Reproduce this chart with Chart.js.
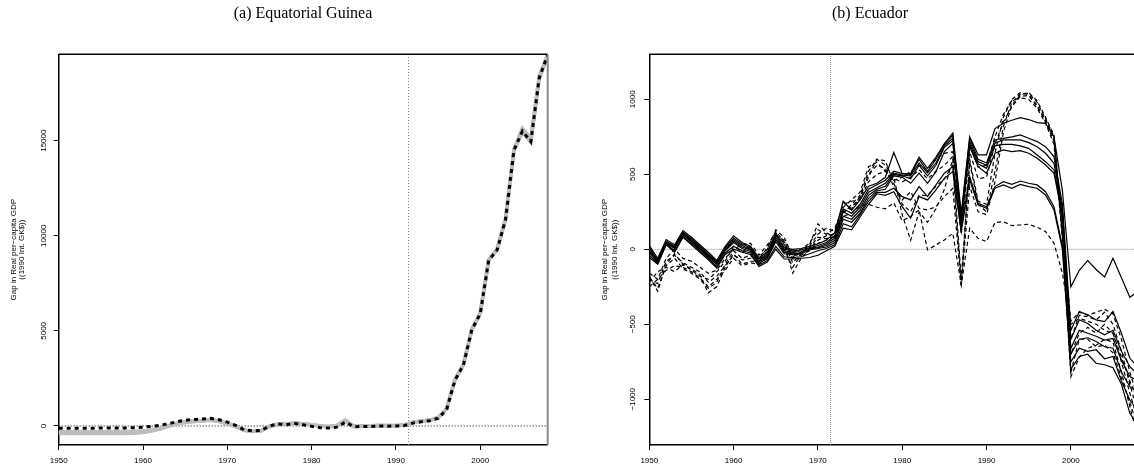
<!DOCTYPE html>
<html><head><meta charset="utf-8">
<script src="https://cdn.jsdelivr.net/npm/chart.js@4/dist/chart.umd.min.js"></script>
<style>
html,body{margin:0;padding:0;background:#fff;overflow:hidden;width:1134px;height:474px;}
#wrap{position:relative;width:1134px;height:474px;overflow:hidden;background:#fff;}
#c1{position:absolute;left:0;top:0;}
#c2{position:absolute;left:567px;top:0;}
</style></head><body>
<div id="wrap"><canvas id="c1" width="567" height="474"></canvas><canvas id="c2" width="600" height="474"></canvas></div>
<script>
// ---------------- DATA ----------------
const years = [1950,1951,1952,1953,1954,1955,1956,1957,1958,1959,
  1960,1961,1962,1963,1964,1965,1966,1967,1968,1969,
  1970,1971,1972,1973,1974,1975,1976,1977,1978,1979,
  1980,1981,1982,1983,1984,1985,1986,1987,1988,1989,
  1990,1991,1992,1993,1994,1995,1996,1997,1998,1999,
  2000,2001,2002,2003,2004,2005,2006,2007,2008];
const xTickLabels = [1950,1960,1970,1980,1990,2000];

// (a) Equatorial Guinea
const eqTitle = '(a) Equatorial Guinea';
const eqYTicks = [0,5000,10000,15000];
const eqTreatYear = 1991.5;
const eqMainGap = [-120,-120,-118,-115,-115,-112,-110,-106,-100,-90,
  -60,-20,30,120,220,300,340,370,400,330,
  200,30,-200,-260,-240,0,110,70,130,60,
  -20,-90,-110,-60,200,-40,-20,-30,0,-10,
  0,20,150,220,280,400,850,2400,3200,5050,
  5900,8700,9250,10850,14500,15500,14950,18300,19500];
const eqGray1 = [-300,-300,-300,-300,-300,-300,-300,-295,-290,-280,
  -250,-200,-110,20,140,220,270,300,340,280,
  150,-10,-210,-270,-240,-10,100,90,150,110,
  50,0,-40,10,310,-20,0,10,30,20,
  20,60,200,260,310,450,900,2450,3250,5100,
  5950,8750,9300,10900,14550,15650,15100,18400,19540];
const eqGray2 = [-350,-350,-350,-350,-350,-350,-348,-345,-340,-330,
  -300,-240,-140,0,120,200,250,280,320,260,
  130,-20,-220,-280,-250,-20,90,100,150,120,
  60,10,-30,20,300,-20,0,10,30,20,
  20,50,200,260,300,440,880,2430,3230,5080,
  5930,8720,9280,10870,14500,15550,15000,18330,19500];
const eqGray3 = [-400,-400,-400,-400,-400,-400,-398,-395,-390,-380,
  -340,-270,-160,-20,100,180,230,260,300,240,
  110,-30,-230,-290,-260,-30,80,90,140,110,
  50,0,-40,10,290,-30,-10,0,20,10,
  10,40,190,250,290,430,870,2400,3200,5050,
  5900,8700,9250,10850,14450,15450,14900,18250,19450];
const eqGray4 = [-380,-380,-378,-375,-375,-372,-370,-366,-360,-350,
  -320,-250,-150,-10,110,190,240,270,310,250,
  120,-25,-225,-285,-255,-25,85,95,145,115,
  55,5,-35,15,295,-25,-5,5,25,15,
  15,45,195,255,295,435,890,2440,3240,5090,
  5940,8740,9290,10890,14530,15600,15050,18380,19520];

// (b) Ecuador
const ecTitle = '(b) Ecuador';
const ecYTicks = [-1000,-500,0,500,1000];
const ecTreatYear = 1971.5;
const ecSolid1 = [25,-60,65,30,125,80,30,-20,-75,20,
  90,45,20,-55,-20,110,10,0,5,20,
  35,60,110,320,260,330,420,440,480,645,
  505,505,615,540,615,705,775,240,750,630,
  630,805,840,860,878,865,845,840,750,390,
  -250,-140,-75,-135,-185,-60,-190,-320,-280];
const ecSolid2 = [10,-70,55,20,115,70,20,-30,-85,10,
  75,35,10,-65,-30,95,0,-10,-5,10,
  25,45,90,270,240,300,400,430,460,520,
  505,500,600,520,600,700,760,220,740,600,
  575,730,740,750,762,740,718,684,618,300,
  -540,-415,-437,-471,-482,-415,-560,-727,-790];
const ecSolid3 = [0,-80,50,15,110,60,10,-40,-90,0,
  65,25,0,-75,-40,80,-10,-20,-15,5,
  15,35,75,250,220,280,380,410,440,507,
  495,490,575,510,575,690,740,200,720,585,
  560,707,730,730,729,711,684,640,573,270,
  -600,-470,-495,-540,-570,-540,-680,-783,-840];
const ecSolid4 = [-10,-85,45,10,100,55,5,-45,-95,-5,
  55,15,-5,-85,-50,65,-20,-30,-25,0,
  10,25,60,220,200,260,360,400,420,500,
  490,470,560,490,560,680,725,180,700,570,
  540,690,700,700,689,673,629,584,529,240,
  -660,-540,-560,-580,-605,-595,-740,-849,-880];
const ecSolid5 = [-20,-90,40,5,95,50,0,-50,-100,-10,
  45,5,-15,-95,-60,50,-30,-35,-30,-5,
  5,15,45,200,180,240,340,390,400,490,
  480,440,507,440,518,651,707,160,684,551,
  507,640,662,651,658,640,607,562,507,220,
  -700,-600,-590,-615,-650,-660,-820,-916,-960];
const ecSolid6 = [-40,-95,35,-10,85,40,-10,-60,-115,-25,
  20,-10,-25,-105,-75,20,-50,-55,-50,-30,
  -10,5,30,170,150,230,320,380,380,407,
  351,329,418,351,429,507,551,140,484,307,
  284,418,451,433,455,440,429,384,284,20,
  -750,-660,-680,-670,-730,-715,-880,-1005,-1080];
const ecSolid7 = [-55,-100,30,-20,80,30,-20,-70,-125,-35,
  0,-20,-35,-115,-85,0,-65,-65,-60,-55,
  -40,-10,20,140,130,215,300,370,360,384,
  284,207,351,329,396,473,518,118,462,296,
  273,407,429,407,433,418,407,362,262,0,
  -800,-715,-700,-760,-770,-790,-900,-1094,-1180];
const ecDash1 = [-180,-280,-100,-30,-100,-130,-170,-290,-250,-120,
  -30,-100,-80,-80,-40,100,40,-160,-60,0,
  60,90,100,260,280,350,480,600,590,440,
  300,250,360,360,420,470,560,-250,600,320,
  300,640,880,1000,1045,1030,960,850,720,100,
  -850,-720,-660,-640,-600,-620,-820,-1050,-1260];
const ecDash2 = [-200,-230,-80,-40,-90,-120,-150,-220,-180,-110,
  -40,-70,-60,-50,0,130,80,-50,-20,30,
  170,110,80,240,300,360,520,600,560,480,
  230,60,250,180,270,400,600,-200,580,300,
  250,520,820,980,1035,1040,980,870,750,120,
  -480,-420,-440,-420,-400,-430,-600,-820,-1000];
const ecDash3 = [-220,-150,-120,-150,-100,-140,-180,-200,-150,-80,
  20,-20,20,-70,10,120,50,-90,-30,20,
  100,140,120,300,320,330,450,500,520,470,
  450,480,530,470,520,560,620,100,650,470,
  480,700,850,950,1020,1025,950,860,740,80,
  -600,-440,-450,-470,-420,-500,-680,-900,-1100];
const ecDash4 = [-160,-200,-60,0,-60,-80,-120,-160,-140,-60,
  0,30,40,-40,30,110,30,-20,0,40,
  130,100,140,280,330,380,550,580,520,460,
  480,520,560,530,600,640,650,150,700,550,
  560,750,900,990,1010,1000,940,840,700,60,
  -700,-560,-520,-560,-500,-560,-750,-960,-1150];
const ecDash5 = [-250,-200,-140,-110,-120,-150,-190,-250,-200,-140,
  -60,-110,-90,-100,-60,60,0,-120,-40,-10,
  40,60,90,220,240,290,300,280,270,310,
  190,220,262,-4,29,62,107,-240,140,73,
  51,178,184,158,162,167,147,118,40,-160,
  -500,-460,-480,-500,-540,-560,-720,-880,-1000];
const ecDash6 = [-190,-260,-110,-60,-130,-160,-200,-260,-220,-100,
  -10,-60,-40,-90,-10,90,60,-60,-20,10,
  80,70,110,250,270,340,500,560,540,418,
  329,384,273,262,284,351,407,-238,420,250,
  230,450,780,960,1030,1045,990,880,760,140,
  -820,-600,-600,-650,-640,-690,-860,-1020,-1200];

// ---------------- DRAWING ----------------
Chart.defaults.font.family = '"Liberation Sans", Arial, sans-serif';
Chart.defaults.color = '#000';

function series(vals){ return years.map((yr,i)=>({x:yr,y:vals[i]})); }

const framePlugin = {
  id:'frame',
  afterDraw(chart, args, o){
    const {ctx, chartArea:a} = chart;
    ctx.save();
    ctx.strokeStyle = '#000'; ctx.lineWidth = 1.5;
    ctx.beginPath(); ctx.moveTo(a.left, a.top); ctx.lineTo(a.right, a.top); ctx.stroke();
    ctx.strokeStyle = o.rightColor; ctx.lineWidth = o.rightWidth;
    ctx.beginPath(); ctx.moveTo(a.right, a.top); ctx.lineTo(a.right, a.bottom); ctx.stroke();
    ctx.fillStyle = '#000';
    ctx.font = '16px "Liberation Serif", serif';
    ctx.textAlign = 'center'; ctx.textBaseline = 'middle';
    ctx.fillText(o.title, o.titleX, o.titleY);
    ctx.restore();
  }
};

function makeOptions(cfg){
  return {
    responsive:false, animation:false, events:[],
    layout:{padding:{top:54.3, right:cfg.padRight, left:0, bottom:0}},
    plugins:{legend:{display:false}, tooltip:{enabled:false},
      frame:{title:cfg.title, titleX:cfg.titleX, titleY:14, rightColor:cfg.rightColor, rightWidth:cfg.rightWidth}},
    elements:{point:{radius:0}, line:{tension:0}},
    scales:{
      x:{type:'linear', min:years[0], max:years[years.length-1],
        afterBuildTicks:s=>{s.ticks = xTickLabels.map(v=>({value:v}));},
        afterFit:s=>{s.height = 29;},
        ticks:{callback:v=>String(v), font:{size:8}, color:'#000', padding:6, maxRotation:0, autoSkip:false},
        grid:{drawOnChartArea:false, drawTicks:true, tickLength:5, color:'#000', lineWidth:1},
        border:{display:true, color:'#000', width:1.5}},
      y:{type:'linear', min:cfg.yMin, max:cfg.yMax,
        afterBuildTicks:s=>{s.ticks = cfg.yTicks.map(v=>({value:v}));},
        afterFit:s=>{s.width = cfg.yWidth;},
        ticks:{callback:v=>String(v).replace('-','\u2212'), font:{size:8}, color:'#000', minRotation:90, maxRotation:90,
          crossAlign:'center', padding:cfg.tickPad, autoSkip:false},
        grid:{drawOnChartArea:false, drawTicks:true, tickLength:5, color:'#000', lineWidth:1},
        border:{display:true, color:'#000', width:1.5},
        title:{display:true, text:['Gap in Real per\u2212capita GDP','((1990 Int. GK$))'],
          font:{size:8, lineHeight:cfg.titleLH}, color:'#000', padding:{top:cfg.titlePad, bottom:0}}}
    }
  };
}

function solid(vals){ return {data:series(vals), borderColor:'#000', borderWidth:1.2, fill:false}; }
function dashed(vals){ return {data:series(vals), borderColor:'#000', borderWidth:1.2, borderDash:[4,3], fill:false}; }
function gray(vals){ return {data:series(vals), borderColor:'#bdbdbd', borderWidth:3.5, fill:false}; }

// Left chart
const eqYMin = -1000, eqYMax = 19540;
new Chart(document.getElementById('c1'), {
  type:'line',
  data:{datasets:[
    {data:series(eqMainGap), borderColor:'#000', borderWidth:3, borderDash:[4,4], fill:false},
    gray(eqGray1), gray(eqGray2), gray(eqGray3), gray(eqGray4),
    {data:[{x:years[0],y:0},{x:years[years.length-1],y:0}], borderColor:'#000', borderWidth:1, borderDash:[1,2]},
    {data:[{x:eqTreatYear,y:eqYMin},{x:eqTreatYear,y:eqYMax}], borderColor:'#777', borderWidth:1, borderDash:[1,2]}
  ]},
  options:makeOptions({title:eqTitle, titleX:303, padRight:567-547.7, yMin:eqYMin, yMax:eqYMax, yTicks:eqYTicks,
    yWidth:58.7, tickPad:-1.5, titleLH:1.0, titlePad:9.5, rightColor:'#888', rightWidth:2}),
  plugins:[framePlugin]
});

// Right chart
const ecYMin = -1305, ecYMax = 1300;
new Chart(document.getElementById('c2'), {
  type:'line',
  data:{datasets:[
    solid(ecSolid1), solid(ecSolid2), solid(ecSolid3), solid(ecSolid4), solid(ecSolid5), solid(ecSolid6), solid(ecSolid7),
    dashed(ecDash1), dashed(ecDash2), dashed(ecDash3), dashed(ecDash4), dashed(ecDash5), dashed(ecDash6),
    {data:[{x:years[0],y:0},{x:years[years.length-1],y:0}], borderColor:'#888', borderWidth:1, borderDash:[1,1]},
    {data:[{x:ecTreatYear,y:ecYMin},{x:ecTreatYear,y:ecYMax}], borderColor:'#888', borderWidth:1, borderDash:[1,1]}
  ]},
  options:makeOptions({title:ecTitle, titleX:870-567, padRight:600-571.3, yMin:ecYMin, yMax:ecYMax, yTicks:ecYTicks,
    yWidth:82.3, tickPad:0.5, titleLH:1.25, titlePad:32.5, rightColor:'#000', rightWidth:1.5}),
  plugins:[framePlugin]
});
</script>
</body></html>
